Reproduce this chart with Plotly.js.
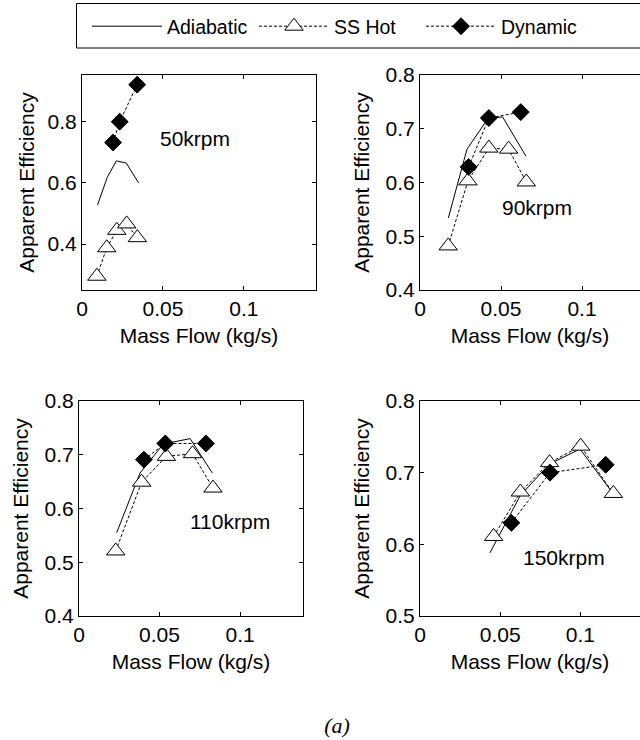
<!DOCTYPE html>
<html>
<head>
<meta charset="utf-8">
<script src="https://cdn.plot.ly/plotly-3.0.1.min.js"></script>
<style>html,body{margin:0;padding:0;background:#fff;}#chart{width:640px;height:740px;}</style>
</head>
<body>
<div id="chart"></div>
<script>
// ---- data ----
var seriesNames = ["Adiabatic", "SS Hot", "Dynamic"];
var panelLabels = ["50krpm", "90krpm", "110krpm", "150krpm"];

var adi50_x = [0.0096, 0.0156, 0.0212, 0.0273, 0.0350];
var adi50_y = [0.528, 0.618, 0.672, 0.665, 0.600];
var ss50_x  = [0.0092, 0.0153, 0.0215, 0.0276, 0.0342];
var ss50_y  = [0.295, 0.388, 0.445, 0.466, 0.421];
var dyn50_x = [0.0192, 0.0233, 0.0341];
var dyn50_y = [0.732, 0.800, 0.921];

var adi90_x = [0.0175, 0.0290, 0.0420, 0.0510, 0.0654];
var adi90_y = [0.534, 0.662, 0.719, 0.722, 0.649];
var ss90_x  = [0.0174, 0.0296, 0.0425, 0.0547, 0.0656];
var ss90_y  = [0.482, 0.603, 0.664, 0.662, 0.601];
var dyn90_x = [0.0300, 0.0425, 0.0622];
var dyn90_y = [0.629, 0.720, 0.731];

var adi110_x = [0.0234, 0.0379, 0.0524, 0.0690, 0.0828];
var adi110_y = [0.555, 0.666, 0.720, 0.730, 0.666];
var ss110_x  = [0.0228, 0.0389, 0.0543, 0.0705, 0.0832];
var ss110_y  = [0.521, 0.649, 0.697, 0.702, 0.638];
var dyn110_x = [0.0403, 0.0536, 0.0788];
var dyn110_y = [0.691, 0.721, 0.721];

var adi150_x = [0.0436, 0.0625, 0.0807, 0.0998, 0.1200];
var adi150_y = [0.588, 0.668, 0.712, 0.733, 0.672];
var ss150_x  = [0.0459, 0.0626, 0.0808, 0.1002, 0.1206];
var ss150_y  = [0.611, 0.673, 0.714, 0.737, 0.671];
var dyn150_x = [0.0570, 0.0811, 0.1158];
var dyn150_y = [0.630, 0.700, 0.711];

var xTickVals = [0, 0.05, 0.1];
var xTickText = ["0", "0.05", "0.1"];
var yTicks50 = [0.4, 0.6, 0.8];
var yTicks90 = [0.4, 0.5, 0.6, 0.7, 0.8];
var yTicks110 = [0.4, 0.5, 0.6, 0.7, 0.8];
var yTicks150 = [0.5, 0.6, 0.7, 0.8];

var xTitle = "Mass Flow (kg/s)";
var yTitle = "Apparent Efficiency";
var figCaption = "(a)";

// ---- build ----
var W = 640, H = 740;
function px(v){ return v / W; }
function py(v){ return 1 - v / H; }

var DASH = "3px,2px";
var panels = [
  {ax: "", adi: [adi50_x, adi50_y], ss: [ss50_x, ss50_y], dyn: [dyn50_x, dyn50_y]},
  {ax: "2", adi: [adi90_x, adi90_y], ss: [ss90_x, ss90_y], dyn: [dyn90_x, dyn90_y]},
  {ax: "3", adi: [adi110_x, adi110_y], ss: [ss110_x, ss110_y], dyn: [dyn110_x, dyn110_y]},
  {ax: "4", adi: [adi150_x, adi150_y], ss: [ss150_x, ss150_y], dyn: [dyn150_x, dyn150_y]}
];

var traces = [];
panels.forEach(function(p, i){
  var xa = "x" + p.ax, ya = "y" + p.ax;
  traces.push({x: p.adi[0], y: p.adi[1], xaxis: xa, yaxis: ya, mode: "lines",
    name: seriesNames[0], legendgroup: "a", showlegend: i === 0,
    line: {color: "#000", width: 1}});
  traces.push({x: p.ss[0], y: p.ss[1], xaxis: xa, yaxis: ya, mode: "lines+markers",
    name: seriesNames[1], legendgroup: "s", showlegend: i === 0,
    line: {color: "#000", width: 1, dash: DASH},
    marker: {symbol: "triangle-up", size: 16, color: "#fff", line: {color: "#000", width: 1}}});
  traces.push({x: p.dyn[0], y: p.dyn[1], xaxis: xa, yaxis: ya, mode: "lines+markers",
    name: seriesNames[2], legendgroup: "d", showlegend: i === 0,
    line: {color: "#000", width: 1, dash: DASH},
    marker: {symbol: "diamond", size: 13, color: "#000", line: {color: "#000", width: 1}}});
});

var FONT = "Liberation Sans, Arial, Helvetica, sans-serif";
function xaxisDef(dom, rng, anchor){
  return {domain: dom, range: rng, anchor: anchor, showline: true, linecolor: "#000", linewidth: 1,
    mirror: "ticks", ticks: "inside", ticklen: 4, tickcolor: "#000", tickwidth: 1,
    tickvals: xTickVals, ticktext: xTickText, showgrid: false, zeroline: false,
    tickfont: {family: FONT, size: 21, color: "#000"},
    title: {text: xTitle, font: {family: FONT, size: 21, color: "#000"}, standoff: 9}};
}
function yaxisDef(dom, rng, anchor, tv, mir, so){
  return {domain: dom, range: rng, anchor: anchor, showline: true, linecolor: "#000", linewidth: 1,
    mirror: mir, ticks: "inside", ticklen: 4, tickcolor: "#000", tickwidth: 1,
    tickvals: tv, ticktext: tv.map(function(v){return v.toFixed(1);}), showgrid: false, zeroline: false,
    tickfont: {family: FONT, size: 21, color: "#000"},
    title: {text: yTitle, font: {family: FONT, size: 21, color: "#000"}, standoff: so}};
}

var topDom = [py(290), py(75)];
var botDom = [py(616), py(401)];

var layout = {
  width: W, height: H, margin: {l: 0, r: 0, t: 0, b: 0, pad: 0},
  paper_bgcolor: "#fff", plot_bgcolor: "#fff",
  font: {family: FONT, size: 21, color: "#000"},
  title: {text: "<i>" + figCaption + "</i>", font: {family: "Liberation Serif, Times New Roman, serif", size: 22, color: "#000"},
    xref: "paper", yref: "paper", x: px(337), y: py(725), xanchor: "center", yanchor: "middle"},
  xaxis:  xaxisDef([px(82), px(316)], [0, 0.1446], "y"),
  yaxis:  yaxisDef(topDom, [0.25, 0.9526], "x", yTicks50, "ticks", 7),
  xaxis2: xaxisDef([px(420), 1], [0, 0.1358], "y2"),
  yaxis2: yaxisDef(topDom, [0.4, 0.8], "x2", yTicks90, false, 10),
  xaxis3: xaxisDef([px(79), px(303)], [0, 0.1391], "y3"),
  yaxis3: yaxisDef(botDom, [0.4, 0.8], "x3", yTicks110, "ticks", 10),
  xaxis4: xaxisDef([px(420), 1], [0, 0.1372], "y4"),
  yaxis4: yaxisDef(botDom, [0.5, 0.8], "x4", yTicks150, false, 10),
  showlegend: true,
  legend: {orientation: "h", x: px(87), y: py(7), xanchor: "left", yanchor: "top",
    font: {family: FONT, size: 19.5, color: "#000"}, bgcolor: "rgba(0,0,0,0)", borderwidth: 0,
    itemwidth: 70, entrywidth: 82, entrywidthmode: "pixels"},
  shapes: [{type: "rect", xref: "paper", yref: "paper", x0: px(76.5), x1: 1.2, y0: py(48), y1: py(3.5),
    line: {color: "#000", width: 1}, fillcolor: "rgba(0,0,0,0)", layer: "below"}],
  annotations: [
    {text: panelLabels[0], xref: "x", yref: "y", x: 0.0698, y: 0.744, showarrow: false, font: {family: FONT, size: 21, color: "#000"}},
    {text: panelLabels[1], xref: "x2", yref: "y2", x: 0.0725, y: 0.553, showarrow: false, font: {family: FONT, size: 21, color: "#000"}},
    {text: panelLabels[2], xref: "x3", yref: "y3", x: 0.0936, y: 0.575, showarrow: false, font: {family: FONT, size: 21, color: "#000"}},
    {text: panelLabels[3], xref: "x4", yref: "y4", x: 0.0895, y: 0.581, showarrow: false, font: {family: FONT, size: 21, color: "#000"}}
  ]
};

Plotly.newPlot("chart", traces, layout, {staticPlot: true, displayModeBar: false});
</script>
</body>
</html>
